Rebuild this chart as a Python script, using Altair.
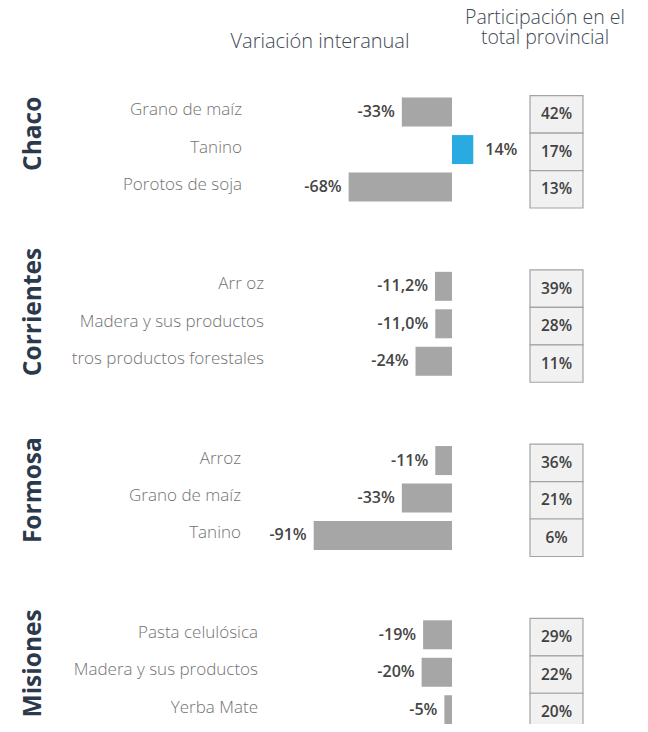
import altair as alt
import pandas as pd

# ---------------- data ----------------
provincias = ["Chaco", "Corrientes", "Formosa", "Misiones"]
productos = [
    ["Grano de maíz", "Tanino", "Porotos de soja"],
    ["Arr oz", "Madera y sus productos", "tros productos forestales"],
    ["Arroz", "Grano de maíz", "Tanino"],
    ["Pasta celulósica", "Madera y sus productos", "Yerba Mate"],
]
variacion = [
    [-33, 14, -68],
    [-11.2, -11.0, -24],
    [-11, -33, -91],
    [-19, -20, -5],
]
decimales = [
    [0, 0, 0],
    [1, 1, 0],
    [0, 0, 0],
    [0, 0, 0],
]
participacion = [
    [42, 17, 13],
    [39, 28, 11],
    [36, 21, 6],
    [29, 22, 20],
]
titulo_variacion = "Variación interanual"
titulo_participacion = "Participación en el\ntotal provincial"

# ---------------- layout / style ----------------
W, H = 632, 716
ZERO_PX = 444.0
PX_PER_PCT = 1.52
ROW_PX = 38.0
FIRST_ROW_PX = 100.5
GROUP_STEP = 4.65
TITLE_OFFSET_PX = [22, 26, 30, 29]
BOX_SHIFT = 0.06
LABEL_RIGHT = [234, 256, 233, 250]
BOX_X = (522, 575)

GREY = "#a6a6a6"
BLUE = "#29aae1"
FONT = "Open Sans"

rows = []
for g, prov in enumerate(provincias):
    for i, prod in enumerate(productos[g]):
        v = variacion[g][i]
        lbl = f"{v:.{decimales[g][i]}f}".replace(".", ",") + "%"
        rows.append(
            dict(
                provincia=prov,
                g=g,
                producto=prod,
                variacion=v,
                lbl=lbl,
                part=participacion[g][i],
                plbl=f"{participacion[g][i]}%",
                slot=g * GROUP_STEP + i,
            )
        )
df = pd.DataFrame(rows)
tit = pd.DataFrame(
    {
        "provincia": provincias,
        "tslot": [g * GROUP_STEP + TITLE_OFFSET_PX[g] / ROW_PX for g in range(len(provincias))],
    }
)

xscale = alt.Scale(domain=[-ZERO_PX / PX_PER_PCT, (W - ZERO_PX) / PX_PER_PCT], zero=False, nice=False)
yscale = alt.Scale(
    domain=[-FIRST_ROW_PX / ROW_PX, (H - FIRST_ROW_PX) / ROW_PX], zero=False, nice=False, reverse=True
)

base = alt.Chart(df).encode(y=alt.Y("slot:Q", scale=yscale, axis=None))

bars = base.mark_bar(size=29, orient="horizontal").encode(
    x=alt.X("variacion:Q", scale=xscale, axis=None),
    x2=alt.datum(0),
    color=alt.when(alt.datum.variacion > 0).then(alt.value(BLUE)).otherwise(alt.value(GREY)),
)

neg_lbl = base.transform_filter(alt.datum.variacion < 0).mark_text(
    align="right", baseline="middle", dx=-7, font=FONT, fontSize=16, fontWeight=600, color="#454545"
).encode(x=alt.X("variacion:Q", scale=xscale, axis=None), text="lbl:N")

pos_lbl = base.transform_filter(alt.datum.variacion > 0).mark_text(
    align="left", baseline="middle", dx=12, font=FONT, fontSize=16, fontWeight=600, color="#454545"
).encode(x=alt.X("variacion:Q", scale=xscale, axis=None), text="lbl:N")

prod_layers = []
for g, prov in enumerate(provincias):
    prod_layers.append(
        base.transform_filter(alt.datum.provincia == prov)
        .mark_text(align="right", baseline="middle", dy=-2, font=FONT, fontSize=17, fontWeight=300, color="#727272")
        .encode(x=alt.value(LABEL_RIGHT[g]), text="producto:N")
    )

boxes = base.transform_calculate(
    y0=f"datum.slot - 0.5 + {BOX_SHIFT}", y1=f"datum.slot + 0.5 + {BOX_SHIFT}"
).mark_rect(fill="#f1f1f1", stroke="#a3a3a3", strokeWidth=1.2).encode(
    x=alt.value(BOX_X[0]),
    x2=alt.value(BOX_X[1]),
    y=alt.Y("y0:Q", scale=yscale, axis=None),
    y2="y1:Q",
)

box_txt = base.transform_calculate(yc=f"datum.slot + {BOX_SHIFT}").mark_text(
    align="center", baseline="middle", font=FONT, fontSize=15.5, fontWeight=600, color="#404040"
).encode(
    x=alt.value((BOX_X[0] + BOX_X[1]) / 2),
    y=alt.Y("yc:Q", scale=yscale, axis=None),
    text="plbl:N",
)

titles = alt.Chart(tit).mark_text(
    angle=270, align="center", baseline="middle", font=FONT, fontSize=24.5, fontWeight="bold", color="#2b394d"
).encode(x=alt.value(26), y=alt.Y("tslot:Q", scale=yscale, axis=None), text="provincia:N")

h1 = alt.Chart(pd.DataFrame({"t": [titulo_variacion]})).mark_text(
    align="center", baseline="alphabetic", font=FONT, fontSize=20, fontWeight=300, color="#3f4955"
).encode(x=alt.value(312), y=alt.value(40), text="t:N")

h2 = alt.Chart(pd.DataFrame({"t": [titulo_participacion]})).mark_text(
    align="center", baseline="alphabetic", font=FONT, fontSize=19.5, fontWeight=300, color="#3f4955",
    lineBreak="\n", lineHeight=20,
).encode(x=alt.value(537), y=alt.value(16), text="t:N")

chart = alt.layer(bars, neg_lbl, pos_lbl, *prod_layers, boxes, box_txt, titles, h1, h2).properties(
    width=W, height=H, padding=0, autosize="none"
).configure_view(stroke=None)

chart.save("out.html", embed_options={"renderer": "svg", "actions": False})
